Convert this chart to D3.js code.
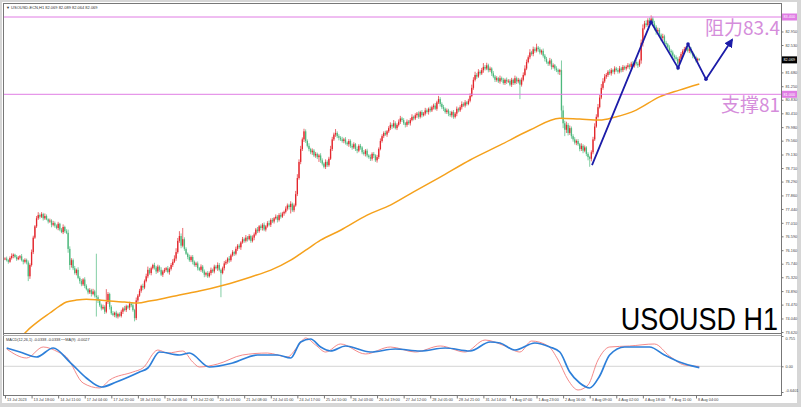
<!DOCTYPE html>
<html><head><meta charset="utf-8">
<script src="https://cdn.jsdelivr.net/npm/d3@7"></script>
<style>body{margin:0;background:#fff}svg{display:block}</style>
</head><body>
<script>
// ---------- DATA ----------
const closes = [
75.90,75.85,75.80,75.92,75.98,76.02,75.95,75.88,75.93,75.97,
75.85,75.80,75.86,75.78,75.35,75.70,76.10,76.55,76.90,77.15,
77.25,77.20,77.28,77.15,77.22,77.12,77.05,77.08,76.95,77.00,
76.92,76.85,76.98,76.80,76.72,76.88,76.75,76.70,76.20,75.70,
75.85,75.60,75.45,75.55,75.30,75.20,75.10,75.25,75.05,74.95,
74.85,74.92,74.80,74.88,74.75,74.70,74.60,74.45,74.35,74.40,
74.25,74.55,74.80,74.40,74.20,74.15,74.22,74.10,74.18,74.12,
74.25,74.35,74.30,74.42,74.38,74.50,74.45,74.30,74.05,74.60,
74.75,74.90,75.05,75.00,75.20,75.35,75.55,75.45,75.60,75.70,
75.62,75.50,75.65,75.55,75.40,75.50,75.55,75.60,75.48,75.58,
75.70,75.80,75.90,76.10,76.45,76.60,76.30,76.50,76.20,76.05,
75.95,75.85,75.95,75.80,75.70,75.75,75.60,75.55,75.65,75.50,
75.40,75.45,75.35,75.45,75.55,75.50,75.65,75.60,75.70,75.55,
75.45,75.60,75.75,75.80,75.90,75.85,76.00,76.10,76.05,76.20,
76.30,76.25,76.40,76.50,76.45,76.55,76.50,76.60,76.45,76.55,
76.65,76.80,76.75,76.90,76.85,76.95,76.80,76.90,77.00,76.95,
77.10,77.05,77.15,77.20,77.10,77.25,77.20,77.30,77.35,77.45,
77.55,77.50,77.60,77.40,77.55,77.90,78.40,78.90,79.30,79.60,
79.85,79.55,79.40,79.30,79.20,79.25,79.10,79.15,79.05,79.10,
78.95,78.85,78.75,78.90,78.80,79.00,79.30,79.60,79.75,79.80,
79.70,79.65,79.60,79.55,79.60,79.50,79.45,79.55,79.40,79.35,
79.45,79.30,79.25,79.40,79.35,79.20,79.15,79.25,79.10,79.05,
79.00,79.15,79.10,78.95,79.05,79.30,79.55,79.70,79.80,79.75,
79.85,79.95,80.05,80.00,80.10,79.95,80.05,80.15,80.25,80.20,
80.10,80.05,80.15,80.10,80.20,80.30,80.25,80.35,80.40,80.30,
80.45,80.35,80.40,80.50,80.45,80.55,80.50,80.60,80.65,80.55,
80.75,80.85,80.70,80.60,80.55,80.45,80.50,80.40,80.35,80.45,
80.30,80.40,80.55,80.50,80.60,80.70,80.65,80.75,80.70,80.80,
80.95,81.20,81.45,81.60,81.55,81.70,81.65,81.75,81.85,81.80,
81.90,81.75,81.80,81.65,81.55,81.45,81.50,81.40,81.50,81.45,
81.35,81.45,81.40,81.42,81.30,81.45,81.35,81.50,81.40,81.45,
81.30,81.45,81.60,81.80,82.00,82.15,82.30,82.25,82.40,82.35,
82.45,82.40,82.30,82.35,82.20,82.10,82.00,81.95,82.05,81.85,
81.90,81.80,81.75,81.70,81.75,80.50,80.10,79.90,80.05,79.80,
79.95,79.70,79.60,79.50,79.55,79.45,79.30,79.40,79.25,79.35,
79.15,79.05,79.00,79.20,79.60,80.00,80.30,80.60,80.90,81.20,
81.40,81.55,81.60,81.70,81.65,81.75,81.70,81.80,81.75,81.70,
81.80,81.75,81.85,81.80,81.85,81.90,81.85,81.95,81.90,82.00,
81.95,81.90,82.05,82.60,83.05,83.20,83.15,83.30,83.25,83.35,
83.20,83.10,82.95,83.00,82.85,82.75,82.80,82.60,82.55,82.45,
82.35,82.30,82.20,82.15,82.10,81.95,82.10,82.25,82.35,82.40,
82.45,82.35,82.40,82.30,82.20,82.15,82.05,82.10,82.07];

// upper / lower wick lengths in cents
const hiExt = [
4,6,3,5,8,4,3,6,5,4, 7,3,5,4,6,5,8,6,4,7, 9,5,6,4,8,5,3,6,4,7, 5,4,6,3,5,8,4,6,10,8,
6,5,7,4,8,5,6,4,7,5, 3,6,4,8,5,130,6,4,5,7, 5,40,6,4,5,7,3,6,4,5, 6,4,8,5,4,6,5,7,4,9,
5,6,4,7,5,8,10,6,5,4, 7,5,6,4,8,5,6,4,7,5, 6,8,10,12,9,15,8,35,6,5, 4,7,5,6,4,5,6,4,7,5,
6,4,6,5,7,4,6,5,8,6, 4,5,7,6,4,8,5,6,4,7, 5,6,4,7,5,8,5,6,4,7, 6,5,8,4,6,5,7,4,6,8,
5,6,4,7,5,6,8,5,4,7, 6,5,8,4,6,10,12,8,10,6, 8,6,5,8,4,7,5,6,4,5, 7,6,4,8,5,6,10,8,6,12,
5,6,5,8,5,7,4,6,5,7, 6,4,8,5,6,4,7,5,6,4, 8,5,6,4,7,5,8,6,5,7, 4,6,8,5,10,6,5,7,8,5,
6,4,7,5,6,8,4,6,5,7, 4,6,5,8,6,4,7,5,6,8, 5,10,6,5,7,4,6,5,8,4, 6,5,7,4,6,8,5,7,4,6,
8,10,8,10,6,8,5,7,12,6, 8,5,6,4,7,5,6,4,8,5, 6,4,7,5,5,6,4,8,5,6, 4,7,8,10,8,6,10,5,8,6,
12,5,6,4,7,5,6,4,8,5, 6,4,7,5,4,30,15,8,10,6, 8,5,6,7,5,6,4,8,5,6, 4,5,4,6,8,10,8,10,8,12,
10,8,6,5,8,6,4,7,5,6, 8,5,6,4,5,7,5,6,8,5, 7,6,4,10,12,8,10,6,8,10, 6,8,5,7,6,4,8,5,6,4,
7,5,6,4,6,5,8,6,5,7, 4,6,5,7,4,6,5,4,2];
const loExt = [
5,4,6,3,5,7,4,5,3,6, 4,8,5,6,15,8,5,6,4,5, 5,6,4,7,5,3,6,4,8,5, 6,4,7,5,3,6,5,4,12,15,
8,6,5,7,4,8,6,5,7,4, 6,5,8,4,6,60,8,5,6,4, 7,5,6,8,5,4,7,5,6,4, 5,7,4,6,5,8,6,5,10,6,
5,4,6,8,5,4,6,5,7,4, 6,8,5,6,4,7,5,6,4,8, 5,6,4,7,5,6,8,5,6,4, 7,5,6,8,5,6,7,4,6,5,
8,6,5,4,7,5,6,4,8,5, 75,4,7,5,6,8,5,4,7,5, 6,5,8,4,6,5,7,4,6,5, 8,4,6,5,7,8,5,6,4,5,
7,5,6,4,8,5,6,4,7,5, 6,8,20,5,6,4,6,5,7,6, 8,6,5,7,6,8,5,7,6,15, 8,6,5,7,6,5,4,6,5,7,
6,8,5,5,7,6,5,8,6,7, 5,6,8,5,7,6,5,8,6,5, 7,6,8,5,7,6,4,5,6,4, 7,5,6,8,5,4,6,5,7,6,
5,8,6,5,7,4,6,5,8,6, 5,7,4,6,5,8,6,5,7,4, 6,5,8,6,7,5,6,8,5,7, 6,5,8,6,5,7,4,6,5,4,
5,4,6,5,7,4,6,5,8,6, 5,7,6,8,5,7,6,5,7,6, 5,6,8,5,5,7,6,5,8,6, 45,6,5,4,5,4,6,5,7,6,
5,8,6,7,6,8,5,7,6,8, 5,7,6,8,10,25,15,20,10,8, 6,8,7,6,8,5,7,6,8,5, 7,10,25,8,6,5,4,5,4,5,
6,5,7,6,5,7,6,8,5,6, 5,7,6,5,6,5,8,6,5,7, 6,8,5,10,12,4,6,5,8,6, 7,12,10,8,6,10,8,6,10,8,
7,9,10,8,6,20,6,5,6,8, 6,5,7,6,8,5,6,7,3];

// moving average : bar index / value
const maIdx = [9,12,15,21,27,33,37,43,49,57,63,72,80,87,96,105,117,132,148,160,172,181,190,202,218,232,246,262,280,298,316,334,346,358,367,380,394,406,418];
const maVal = [73.45,73.59,73.74,73.99,74.21,74.43,74.55,74.61,74.64,74.61,74.58,74.55,74.52,74.58,74.67,74.77,74.89,75.08,75.33,75.54,75.85,76.16,76.47,76.78,77.25,77.56,77.97,78.43,78.96,79.42,79.89,80.26,80.23,80.20,80.29,80.51,80.92,81.13,81.32];

// MACD main (blue) and MA(9) (red)
const macdIdx = [1,9,19,29,39,49,58,67,81,86,93,105,111,123,137,152,164,172,178,184,190,196,205,220,235,250,265,280,292,298,307,319,328,334,340,346,352,358,364,373,388,397,406,418];
const macdVal = [0.456,0.356,0.232,0.456,0.107,-0.291,-0.516,-0.391,-0.142,-0.042,0.356,0.282,0.331,-0.017,0.082,0.282,0.282,0.207,0.606,0.680,0.481,0.381,0.506,0.356,0.431,0.381,0.456,0.381,0.606,0.581,0.406,0.581,0.481,0.356,-0.142,-0.416,-0.540,-0.242,0.282,0.481,0.481,0.282,0.107,-0.034];
const sigIdx = [1,13,23,32,37,47,57,63,77,83,92,98,107,113,117,128,143,158,170,176,181,187,193,202,217,232,247,262,277,289,301,310,317,327,333,339,345,351,357,364,376,391,400,409,418];
const sigVal = [0.431,0.207,0.481,0.356,0.232,-0.416,-0.540,-0.341,-0.142,-0.042,0.406,0.331,0.381,0.107,-0.017,0.057,0.282,0.331,0.232,0.481,0.705,0.531,0.356,0.556,0.307,0.481,0.356,0.506,0.356,0.655,0.506,0.356,0.630,0.506,0.157,-0.341,-0.590,-0.466,0.157,0.481,0.506,0.556,0.257,0.032,-0.003];

// hand-drawn forecast path (bar index / price)
const pathIdx = [353.4,388.9,405.2,411.2,422.0,437.7];
const pathVal = [78.80,83.24,81.82,82.56,81.47,82.69];

const levels = [83.4, 81.0];
const levelTexts = ["阻力83.4","支撑81"];
const lastPrice = 82.069;

const priceTicks = [82.95,82.53,81.68,81.25,80.83,80.41,79.98,79.56,79.13,78.71,78.29,77.86,77.44,77.01,76.59,76.16,75.74,75.32,74.89,74.47,74.04,73.62];
const macdTicks = [0.755,0,-0.6401];
const macdTickLabels = ["0.755","0.00","-0.6401"];
const timeIdx = [0,16,32,48,64,80,96,112,128,144,160,176,192,208,224,240,256,272,288,304,320,336,352,368,384,400,416];
const timeLabels = ["13 Jul 2023","13 Jul 18:00","14 Jul 11:00","17 Jul 04:00","17 Jul 20:00","18 Jul 13:00","19 Jul 06:00","19 Jul 22:00","20 Jul 15:00","21 Jul 08:00","24 Jul 01:00","24 Jul 17:00","25 Jul 10:00","26 Jul 03:00","26 Jul 19:00","27 Jul 12:00","28 Jul 05:00","28 Jul 21:00","31 Jul 14:00","1 Aug 07:00","1 Aug 23:00","2 Aug 16:00","3 Aug 09:00","4 Aug 02:00","4 Aug 18:00","7 Aug 11:00","8 Aug 04:00"];

// ---------- LAYOUT ----------
const W = 801, H = 407;
const L = 3, R = 781, T = 3, MB = 333, MT = 335, B = 395;
const FONT = "'Liberation Sans', Arial, sans-serif";
const SMALL = 3.8;

const x = d3.scaleLinear().domain([0, 416]).range([5, 696]);
const y = d3.scaleLinear().domain([73.62, 83.4]).range([332, 17]);
const ym = d3.scaleLinear().domain([-0.6401, 0.755]).range([392, 336]);

const svg = d3.select("body").append("svg").attr("width", W).attr("height", H)
  .style("font-family", FONT);

svg.append("rect").attr("width", W).attr("height", H).attr("fill", "#d6d6d6");
svg.append("rect").attr("x", 2).attr("y", 2).attr("width", 795).attr("height", 401).attr("fill", "#fff");

const defs = svg.append("defs");
defs.append("clipPath").attr("id", "cm").append("rect").attr("x", L).attr("y", T).attr("width", R - L).attr("height", MB - T);
defs.append("clipPath").attr("id", "cd").append("rect").attr("x", L).attr("y", MT).attr("width", R - L).attr("height", B - MT);
defs.append("marker").attr("id", "arr").attr("viewBox", "0 0 10 10").attr("refX", 8).attr("refY", 5)
  .attr("markerWidth", 5).attr("markerHeight", 5).attr("orient", "auto")
  .append("path").attr("d", "M0,0 L10,5 L0,10 z").attr("fill", "#1c1ca8");

// header
svg.append("text").attr("x", 6).attr("y", 8.5).attr("font-size", 4).attr("fill", "#333")
  .text("▼ USOUSD-ECN,H1  82.069 82.089 82.064 82.069");

const main = svg.append("g").attr("clip-path", "url(#cm)");

// candles
const bars = closes.map((c, i) => {
  const o = i === 0 ? c : closes[i - 1];
  return { i, o, c, h: Math.max(o, c) + (hiExt[i] || 0) / 100, l: Math.min(o, c) - (loExt[i] || 0) / 100 };
});
const UP = "#e3262c", DN = "#4cb87c";
main.append("g").selectAll("line").data(bars).join("line")
  .attr("x1", d => x(d.i)).attr("x2", d => x(d.i))
  .attr("y1", d => y(d.h)).attr("y2", d => y(d.l))
  .attr("stroke", d => d.c >= d.o ? UP : DN).attr("stroke-width", 0.7);
main.append("g").selectAll("rect").data(bars).join("rect")
  .attr("x", d => x(d.i) - 0.65).attr("width", 1.3)
  .attr("y", d => y(Math.max(d.o, d.c)))
  .attr("height", d => Math.max(0.8, Math.abs(y(d.o) - y(d.c))))
  .attr("fill", d => d.c >= d.o ? UP : DN);

// moving average
main.append("path").datum(maIdx.map((v, k) => [v, maVal[k]]))
  .attr("d", d3.line().x(d => x(d[0])).y(d => y(d[1])).curve(d3.curveMonotoneX))
  .attr("fill", "none").attr("stroke", "#f5a11c").attr("stroke-width", 1.5);

// levels
levels.forEach((lv, k) => {
  main.append("line").attr("x1", L).attr("x2", R).attr("y1", y(lv)).attr("y2", y(lv))
    .attr("stroke", "#e07de4").attr("stroke-width", 1);
  main.append("text").attr("x", 780).attr("y", y(lv) + 18).attr("text-anchor", "end")
    .attr("font-size", 19).attr("fill", "#d58ddb")
    .attr("font-family", "'Noto Sans CJK SC', 'Liberation Sans', sans-serif")
    .text(levelTexts[k]);
});

// forecast path
const pts = pathIdx.map((v, k) => [x(v), y(pathVal[k])]);
main.append("path").datum(pts).attr("d", d3.line())
  .attr("fill", "none").attr("stroke", "#1c1ca8").attr("stroke-width", 1.8)
  .attr("stroke-linejoin", "round").attr("marker-end", "url(#arr)");
main.append("g").selectAll("circle").data(pts.slice(1, -1)).join("circle")
  .attr("cx", d => d[0]).attr("cy", d => d[1]).attr("r", 1.8).attr("fill", "#1c1ca8");

// big symbol text (slightly condensed)
svg.append("g").attr("transform", "translate(778,330) scale(0.87,1)")
  .append("text").attr("x", 0).attr("y", 0).attr("text-anchor", "end")
  .attr("font-size", 31).attr("fill", "#000")
  .text("USOUSD H1");

// MACD panel
const sub = svg.append("g").attr("clip-path", "url(#cd)");
sub.append("line").attr("x1", L).attr("x2", R).attr("y1", ym(0)).attr("y2", ym(0))
  .attr("stroke", "#c9c9c9").attr("stroke-width", 0.8);
const mline = d3.line().x(d => x(d[0])).y(d => ym(d[1])).curve(d3.curveMonotoneX);
sub.append("path").datum(sigIdx.map((v, k) => [v, sigVal[k]])).attr("d", mline)
  .attr("fill", "none").attr("stroke", "#f27c7c").attr("stroke-width", 0.9);
sub.append("path").datum(macdIdx.map((v, k) => [v, macdVal[k]])).attr("d", mline)
  .attr("fill", "none").attr("stroke", "#2d7fd9").attr("stroke-width", 1.7);
svg.append("text").attr("x", 6).attr("y", 340.5).attr("font-size", SMALL).attr("fill", "#333")
  .text("MACD(12,26,1) -0.0338 -0.0338  ⋯MA(9) -0.0027");

// frame lines
const frame = svg.append("g").attr("stroke", "#777").attr("stroke-width", 1).attr("fill", "none");
frame.append("rect").attr("x", L + 0.5).attr("y", T + 0.5).attr("width", R - L).attr("height", B - T);
frame.append("line").attr("x1", L).attr("x2", R).attr("y1", MB + 0.5).attr("y2", MB + 0.5);
frame.append("line").attr("x1", L).attr("x2", R).attr("y1", MT + 0.5).attr("y2", MT + 0.5).attr("stroke", "#aaa");

// price axis
const pa = svg.append("g").attr("transform", `translate(${R + 0.5},0)`)
  .call(d3.axisRight(y).tickValues(priceTicks).tickSize(2).tickPadding(2).tickFormat(d3.format(".3f")));
pa.select(".domain").remove();
pa.selectAll("line").attr("stroke", "#777");
pa.selectAll("text").attr("font-size", SMALL).attr("fill", "#444").attr("font-family", FONT);

const ma = svg.append("g").attr("transform", `translate(${R + 0.5},0)`)
  .call(d3.axisRight(ym).tickValues(macdTicks).tickSize(2).tickPadding(2).tickFormat((d, k) => macdTickLabels[k]));
ma.select(".domain").remove();
ma.selectAll("line").attr("stroke", "#777");
ma.selectAll("text").attr("font-size", SMALL).attr("fill", "#444").attr("font-family", FONT)
  .attr("dy", (d, k) => k === 0 ? "0.9em" : (k === 2 ? "-0.1em" : "0.32em"));

// price flags
const flags = [[levels[0], "#e07de4", "83.400"], [lastPrice, "#000", "82.069"], [levels[1], "#e07de4", "81.000"]];
flags.forEach(f => {
  svg.append("rect").attr("x", R + 1).attr("y", y(f[0]) - 3.5).attr("width", 15).attr("height", 7).attr("fill", f[1]);
  svg.append("text").attr("x", R + 2.5).attr("y", y(f[0]) + 1.4).attr("font-size", SMALL).attr("fill", "#fff").text(f[2]);
});

// time axis
const ta = svg.append("g").attr("transform", `translate(0,${B + 0.5})`)
  .call(d3.axisBottom(x).tickValues(timeIdx).tickSize(3).tickFormat((d, k) => timeLabels[k]));
ta.select(".domain").remove();
ta.selectAll("line").attr("stroke", "#777");
ta.selectAll("text").attr("font-size", SMALL).attr("fill", "#444").attr("text-anchor", "start")
  .attr("dx", 1.5).attr("dy", -0.5).attr("font-family", FONT);
</script>
</body></html>
